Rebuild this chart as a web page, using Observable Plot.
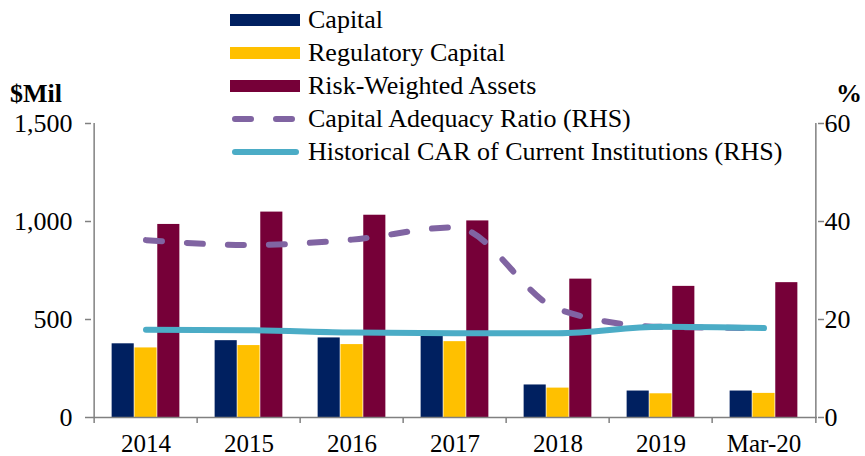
<!DOCTYPE html>
<html>
<head>
<meta charset="utf-8">
<script src="https://cdn.jsdelivr.net/npm/d3@7"></script>
<script src="https://cdn.jsdelivr.net/npm/@observablehq/plot@0.6"></script>
<style>
  html, body { margin: 0; padding: 0; background: #fff; }
  #wrap { position: relative; width: 865px; height: 456px; overflow: hidden; font-family: "Liberation Serif", serif; color: #000; }
  #legend { position: absolute; left: 230px; top: 3px; }
  .row { height: 33px; display: flex; align-items: center; font-size: 26px; white-space: nowrap; }
  .sw { width: 70px; height: 12px; margin-right: 8px; position: relative; }
  .ax { position: absolute; font-weight: bold; font-size: 26px; line-height: 1; }
</style>
</head>
<body>
<div id="wrap"></div>
<script>
// ---- data ----
const years = ["2014", "2015", "2016", "2017", "2018", "2019", "Mar-20"];
const capital = [376, 392, 406, 415, 166, 135, 135];
const regulatoryCapital = [355, 367, 372, 387, 150, 121, 123];
const riskWeightedAssets = [985, 1048, 1032, 1003, 706, 669, 688];
const capitalAdequacyRatio = [36.2, 35.2, 36.3, 38.8, 22.1, 18.5, 18.25];
const historicalCAR = [17.9, 17.8, 17.35, 17.2, 17.2, 18.5, 18.25];
const leftTicks = [0, 500, 1000, 1500];
const rightMax = 60;
const leftMax = 1500;

const seriesBars = [
  {name: "Capital", values: capital, color: "#002060"},
  {name: "Regulatory Capital", values: regulatoryCapital, color: "#FFC000"},
  {name: "Risk-Weighted Assets", values: riskWeightedAssets, color: "#760038"}
];
const seriesLines = [
  {name: "Capital Adequacy Ratio (RHS)", values: capitalAdequacyRatio, color: "#8064A2", dash: "16,25"},
  {name: "Historical CAR of Current Institutions (RHS)", values: historicalCAR, color: "#4BACC6", dash: null}
];

// ---- layout ----
const W = 865, H = 456;
const mL = 91, mR = 48, mT = 123, mB = 39;
const bw = (W - mL - mR) / years.length;
const barFrac = 0.22;
const groupOff = (1 - barFrac * seriesBars.length) / 2;
const k = leftMax / rightMax;
const axisColor = "#808080";

const marks = [];
seriesBars.forEach((s, j) => {
  const rows = years.map((y, i) => ({year: y, value: s.values[i]}));
  marks.push(Plot.barY(rows, {
    x: "year", y: "value", fill: s.color,
    insetLeft: bw * (groupOff + j * barFrac),
    insetRight: bw * (1 - groupOff - (j + 1) * barFrac)
  }));
});
seriesLines.forEach(s => {
  const rows = years.map((y, i) => ({year: y, v: s.values[i] * k}));
  marks.push(Plot.line(rows, {
    x: "year", y: "v", stroke: s.color, strokeWidth: 6,
    strokeDasharray: s.dash || undefined, strokeLinecap: "round", strokeLinejoin: "round",
    curve: "monotone-x"
  }));
});
// axis lines and category boundary ticks
marks.push(Plot.ruleY([0], {stroke: axisColor, strokeWidth: 1.5}));
marks.push(Plot.ruleX([years[0]], {dx: -bw / 2, stroke: axisColor, strokeWidth: 1.5}));
marks.push(Plot.ruleX([years[years.length - 1]], {dx: bw / 2, stroke: axisColor, strokeWidth: 1.5}));
marks.push(Plot.ruleX(years, {dx: -bw / 2, y1: 0, y2: 0, insetBottom: -6, stroke: axisColor, strokeWidth: 1.5}));
marks.push(Plot.ruleX([years[years.length - 1]], {dx: bw / 2, y1: 0, y2: 0, insetBottom: -6, stroke: axisColor, strokeWidth: 1.5}));
// axes
marks.push(Plot.axisY({anchor: "left", ticks: leftTicks, tickFormat: d3.format(","), tickSize: 6, tickPadding: 13, stroke: axisColor, strokeWidth: 1.5, label: null, fontSize: 26, fill: "#000"}));
marks.push(Plot.axisY({anchor: "right", ticks: leftTicks, tickFormat: d => String(d / k), tickSize: 6, tickPadding: 1, stroke: axisColor, strokeWidth: 1.5, label: null, fontSize: 26, fill: "#000"}));
marks.push(Plot.axisX({anchor: "bottom", tickSize: 0, tickPadding: 17, label: null, fontSize: 25, fill: "#000"}));

const chart = Plot.plot({
  width: W, height: H,
  marginLeft: mL, marginRight: mR, marginTop: mT, marginBottom: mB,
  style: {fontFamily: "Liberation Serif, serif", fontSize: "26px", background: "#fff", color: "#000", overflow: "hidden"},
  x: {domain: years, padding: 0},
  y: {domain: [0, leftMax]},
  marks
});

const wrap = document.getElementById("wrap");
wrap.appendChild(chart);

// legend
const legend = document.createElement("div");
legend.id = "legend";
seriesBars.forEach(s => {
  const r = document.createElement("div"); r.className = "row";
  const sw = document.createElement("div"); sw.className = "sw"; sw.style.background = s.color;
  r.appendChild(sw);
  r.appendChild(document.createTextNode(s.name));
  legend.appendChild(r);
});
seriesLines.forEach(s => {
  const r = document.createElement("div"); r.className = "row";
  const ns = "http://www.w3.org/2000/svg";
  const svg = document.createElementNS(ns, "svg");
  svg.setAttribute("width", 70); svg.setAttribute("height", 12);
  svg.style.marginRight = "8px";
  const ln = document.createElementNS(ns, "line");
  ln.setAttribute("x1", 5); ln.setAttribute("x2", 66); ln.setAttribute("y1", 6); ln.setAttribute("y2", 6);
  ln.setAttribute("stroke", s.color); ln.setAttribute("stroke-width", 6); ln.setAttribute("stroke-linecap", "round");
  if (s.dash) ln.setAttribute("stroke-dasharray", "16,25");
  svg.appendChild(ln);
  r.appendChild(svg);
  r.appendChild(document.createTextNode(s.name));
  legend.appendChild(r);
});
wrap.appendChild(legend);

const lt = document.createElement("div"); lt.className = "ax"; lt.textContent = "$Mil";
lt.style.left = "10px"; lt.style.top = "81px";
wrap.appendChild(lt);
const rt = document.createElement("div"); rt.className = "ax"; rt.textContent = "%";
rt.style.left = "836px"; rt.style.top = "81px";
wrap.appendChild(rt);
</script>
</body>
</html>
